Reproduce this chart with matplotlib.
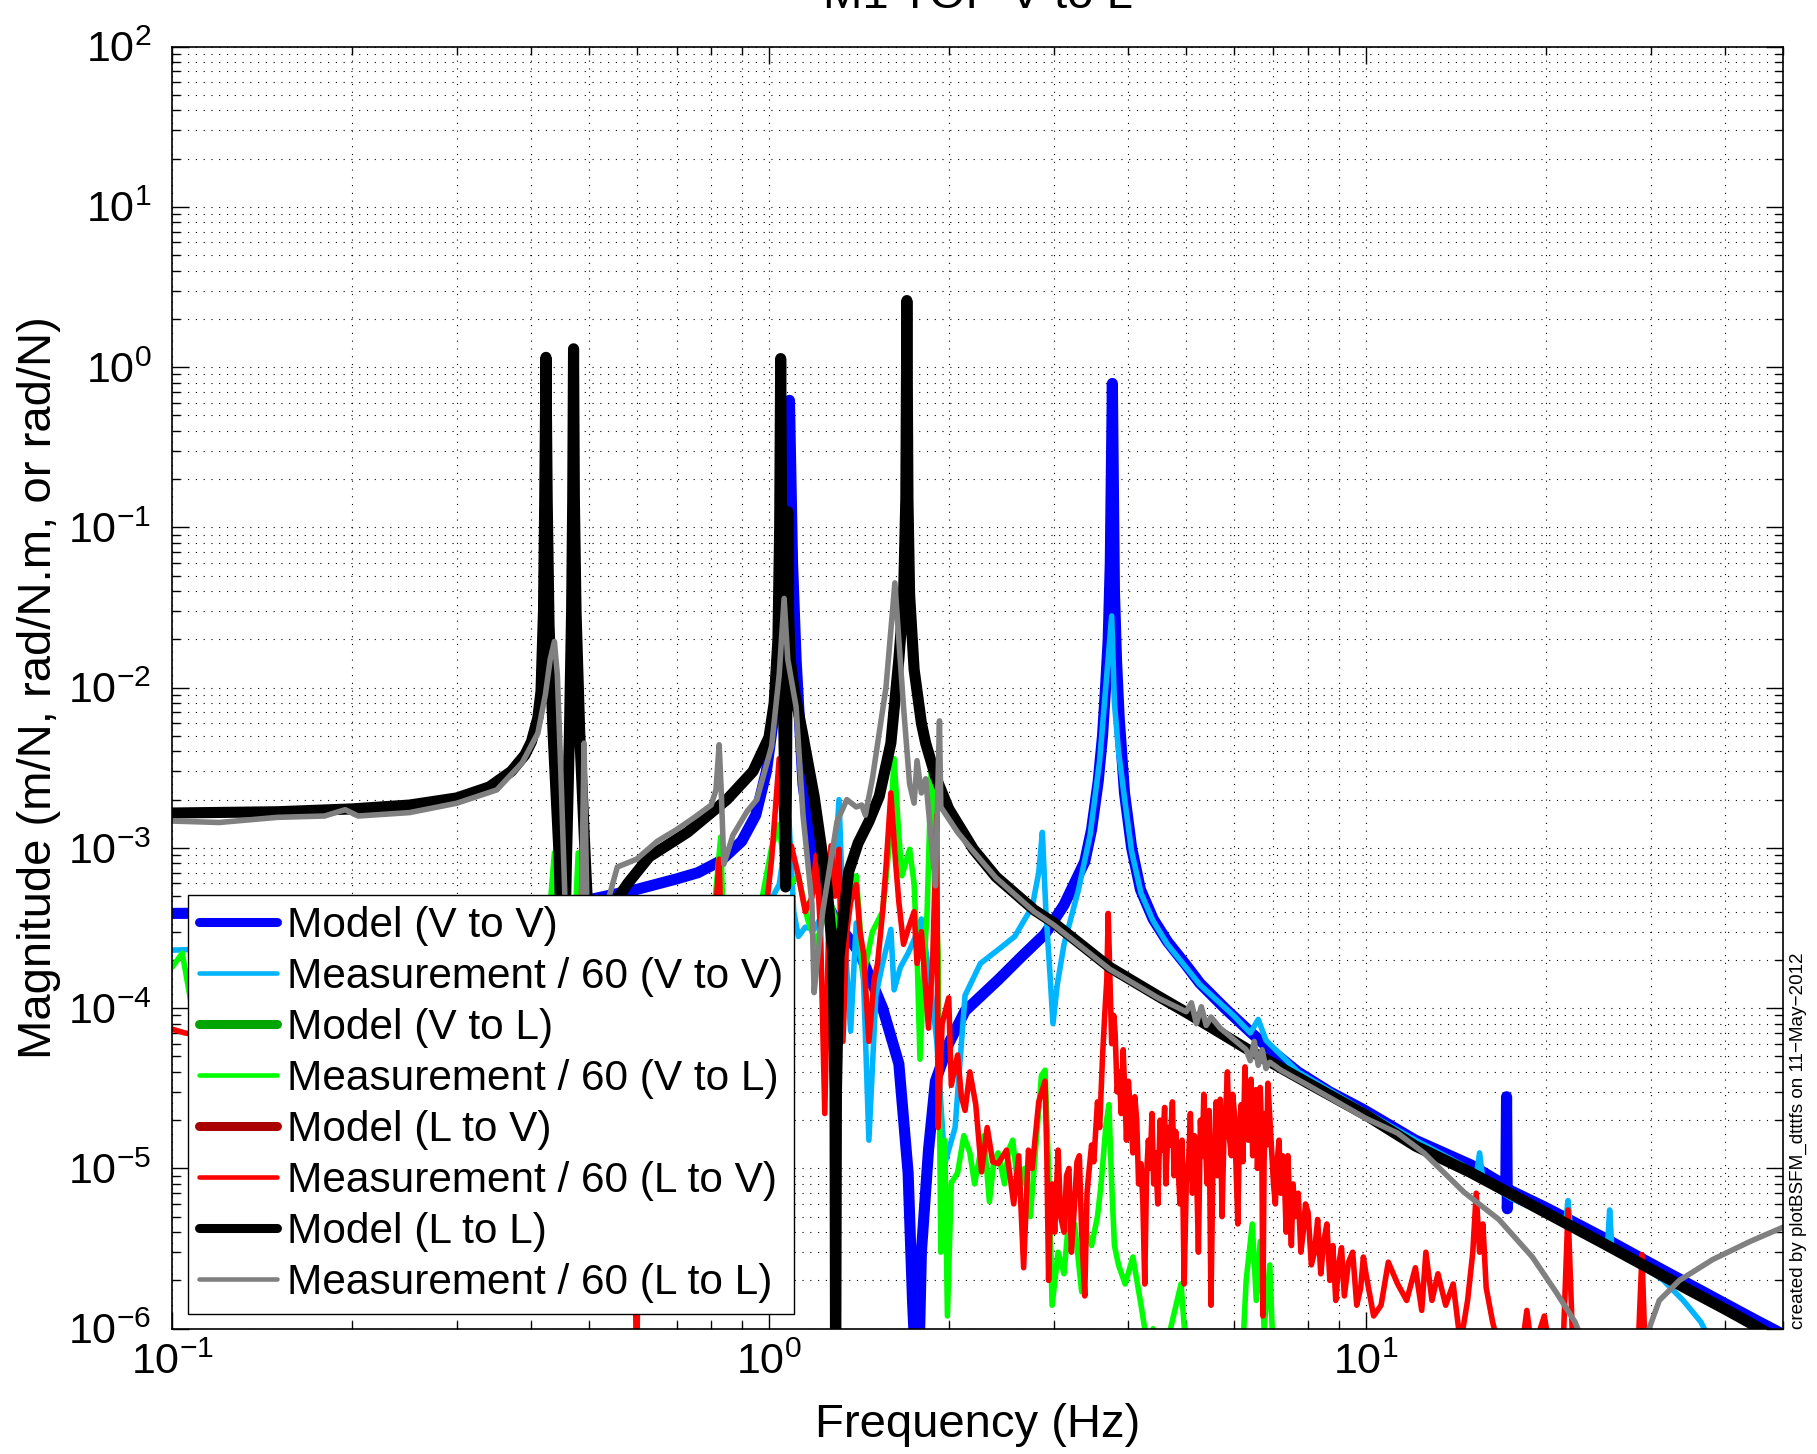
"""Recreate the M1 TOP V to L transfer-function magnitude plot."""

from __future__ import annotations

import matplotlib

matplotlib.use("Agg")

import matplotlib.pyplot as plt
from matplotlib.ticker import LogFormatterSciNotation, LogLocator, NullFormatter

# ---- values: frequency (Hz) and magnitude ----

# Model (V to V)
model_vv_freq = [0.1, 0.2, 0.3, 0.4, 0.5, 0.6, 0.7, 0.76, 0.83, 0.9, 0.95, 0.99, 1.03,
                 1.055, 1.07, 1.078, 1.082, 1.086, 1.095, 1.11, 1.14, 1.2, 1.3, 1.42,
                 1.55, 1.65, 1.71, 1.74, 1.775, 1.8, 1.85, 1.9, 2.0, 2.13, 2.42, 2.65,
                 2.9, 3.12, 3.38, 3.47, 3.56, 3.62, 3.66, 3.7, 3.73, 3.76, 3.79, 3.82,
                 3.86, 3.94, 4.05, 4.19, 4.4, 4.65, 5.0, 5.27, 5.8, 6.4, 7.0, 7.69, 8.7,
                 9.9, 12.1, 15.0, 17.15, 17.2, 17.25, 17.3, 20, 25, 30, 35, 40, 45, 50]
model_vv_mag = [3.9e-4, 3.95e-4, 4.1e-4, 4.35e-4, 4.75e-4, 5.5e-4, 6.4e-4, 7.0e-4, 8.3e-4,
                1.1e-3, 1.6e-3, 3.0e-3, 9e-3, 3e-2, 0.12, 0.3, 0.62, 0.3, 6e-2, 1.5e-2,
                2.5e-3, 6e-4, 3.4e-4, 2.2e-4, 1e-4, 4.5e-5, 9.4e-6, 1.45e-6, 3e-7, 3e-6,
                1.3e-5, 3.5e-5, 6e-5, 9.6e-5, 1.5e-4, 2.1e-4, 2.9e-4, 4.4e-4, 8.2e-4,
                1.3e-3, 2.6e-3, 5e-3, 9.6e-3, 2e-2, 6e-2, 0.79, 4e-2, 1.5e-2, 6.5e-3,
                2.2e-3, 1.0e-3, 5.5e-4, 3.6e-4, 2.6e-4, 1.85e-4, 1.43e-4, 1e-4, 7.1e-5,
                5.3e-5, 4e-5, 3e-5, 2.33e-5, 1.5e-5, 1.05e-5, 7.8e-6, 2.8e-5, 5.6e-6,
                7.4e-6, 5.7e-6, 3.7e-6, 2.55e-6, 1.87e-6, 1.43e-6, 1.13e-6, 9.2e-7]

# Measurement / 60 (V to V)
meas_vv_freq = [0.1, 0.2, 0.4, 0.55, 0.7, 0.85, 1.0, 1.04, 1.08, 1.1, 1.12, 1.15, 1.19,
                1.26, 1.29, 1.31, 1.33, 1.37, 1.4, 1.44, 1.47, 1.51, 1.55, 1.6, 1.62,
                1.66, 1.71, 1.76, 1.8, 1.86, 1.91, 1.97, 2.05, 2.13, 2.26, 2.45, 2.58,
                2.76, 2.83, 2.87, 2.91, 2.96, 2.99, 3.04, 3.12, 3.3, 3.45, 3.58, 3.68,
                3.75, 3.79, 3.85, 3.95, 4.05, 4.2, 4.4, 4.65, 5.27, 6.0, 6.4, 6.6, 6.8,
                7.7, 9.9, 12.1, 14.5, 15.3, 15.5, 15.7, 17.5, 20, 21.6, 21.8, 22.0, 24,
                25.4, 25.6, 25.8, 28, 31.5, 34, 36.4, 38]
meas_vv_mag = [2.3e-4, 2.5e-4, 3e-4, 4e-4, 4.5e-4, 4e-4, 4.5e-4, 5.9e-4, 1.5e-3, 4e-4,
               2.8e-4, 3.2e-4, 3.1e-4, 4.5e-4, 8e-4, 2e-3, 4e-4, 7.2e-5, 3.4e-4, 1.5e-4,
               1.5e-5, 1.2e-4, 1.9e-4, 3.1e-4, 1.3e-4, 1.8e-4, 2.2e-4, 2.8e-4, 3.6e-4,
               1.5e-4, 6.2e-5, 1.07e-5, 1.8e-5, 1.2e-4, 1.9e-4, 2.4e-4, 2.8e-4, 4.3e-4,
               7e-4, 1.25e-3, 4e-4, 1.5e-4, 8e-5, 1.4e-4, 2.5e-4, 5.5e-4, 1.2e-3, 3.5e-3,
               1.2e-2, 2.8e-2, 8e-3, 4e-3, 1.9e-3, 9.5e-4, 5.2e-4, 3.5e-4, 2.5e-4, 1.4e-4,
               9e-5, 7e-5, 8.5e-5, 6.3e-5, 4e-5, 2.3e-5, 1.5e-5, 1.05e-5, 9e-6, 1.25e-5,
               8.5e-6, 6.5e-6, 5.2e-6, 4.5e-6, 6.3e-6, 4.3e-6, 3.8e-6, 3.4e-6, 5.5e-6,
               3.3e-6, 2.7e-6, 2e-6, 1.5e-6, 1.1e-6, 8e-7]

# Model (V to L) and Model (L to V) fall below the plotted range
model_vl_freq = []
model_vl_mag = []
model_lv_freq = []
model_lv_mag = []

# Measurement / 60 (V to L)
meas_vl_freq = [0.1, 0.104, 0.108, 0.2, 0.3, 0.42, 0.437, 0.445, 0.47, 0.479, 0.485, 0.6,
                0.8, 0.83, 0.84, 0.95, 1.01, 1.04, 1.07, 1.12, 1.16, 1.2, 1.24, 1.27,
                1.31, 1.34, 1.4, 1.44, 1.49, 1.55, 1.59, 1.62, 1.65, 1.67, 1.72, 1.75,
                1.77, 1.79, 1.82, 1.84, 1.87, 1.9, 1.92, 1.94, 1.97, 1.99, 2.02, 2.07,
                2.12, 2.17, 2.21, 2.25, 2.29, 2.34, 2.38, 2.42, 2.48, 2.52, 2.56, 2.62,
                2.68, 2.74, 2.8, 2.86, 2.9, 2.94, 2.98, 3.05, 3.12, 3.18, 3.25, 3.34,
                3.4, 3.47, 3.55, 3.6, 3.67, 3.71, 3.75, 3.79, 3.85, 3.95, 4.07, 4.2,
                4.3, 4.4, 4.6, 4.9, 5.0, 5.5, 6.2, 6.3, 6.45, 6.55, 6.65, 6.75, 6.9,
                7.0, 10, 50]
meas_vl_mag = [1.8e-4, 2.2e-4, 1e-4, 5e-5, 6e-5, 1.5e-4, 9.3e-4, 2e-4, 2e-4, 9.3e-4,
               2e-4, 1e-4, 2.5e-4, 1.17e-3, 2.5e-4, 3e-4, 1e-3, 1.4e-3, 5.6e-4, 6.7e-4,
               3.6e-4, 2.5e-4, 4e-4, 4.5e-4, 3e-4, 4e-4, 6.7e-4, 1.6e-4, 3e-4, 4e-4,
               1.03e-3, 3.6e-3, 1.2e-3, 6.7e-4, 9.8e-4, 6e-4, 2.2e-4, 4.8e-5, 2e-4, 4e-4,
               3.3e-3, 6e-4, 2.2e-4, 3e-6, 1.5e-5, 1.2e-6, 8.1e-6, 9.4e-6, 1.6e-5,
               1.25e-5, 8e-6, 1.15e-5, 1.6e-5, 6.2e-6, 1.1e-5, 1.25e-5, 8e-6, 1.3e-5,
               1.5e-5, 7e-6, 1e-5, 5e-6, 1.4e-5, 3.8e-5, 4.1e-5, 1e-5, 1.4e-6, 3e-6,
               2.2e-6, 5e-6, 4.5e-6, 1.7e-6, 4e-6, 3.3e-6, 5e-6, 8e-6, 1.9e-5, 2.5e-5,
               8e-6, 3.3e-6, 2.5e-6, 1.9e-6, 2.8e-6, 1.4e-6, 8e-7, 1e-6, 7e-7, 1.9e-6,
               7e-7, 5e-7, 6e-7, 2e-6, 4.5e-6, 1.5e-6, 3.5e-6, 1e-6, 2.5e-6, 6e-7, 4e-7,
               3e-7]

# Measurement / 60 (L to V)
meas_lv_freq = [0.1, 0.105, 0.2, 0.3, 0.4, 0.44, 0.48, 0.49, 0.495, 0.55, 0.595, 0.6,
                0.605, 0.7, 0.8, 0.825, 0.835, 0.9, 0.98, 1.01, 1.04, 1.06, 1.09, 1.12,
                1.15, 1.18, 1.2, 1.22, 1.24, 1.26, 1.27, 1.29, 1.31, 1.33, 1.35, 1.37,
                1.4, 1.42, 1.44, 1.47, 1.5, 1.52, 1.55, 1.57, 1.6, 1.63, 1.65, 1.68,
                1.71, 1.75, 1.77, 1.8, 1.85, 1.88, 1.91, 1.92, 1.95, 2.0, 2.02, 2.07,
                2.1, 2.13, 2.17, 2.22, 2.27, 2.32, 2.37, 2.42, 2.5, 2.57, 2.62, 2.67,
                2.72, 2.76, 2.83, 2.9, 2.92, 2.94, 2.96, 2.98, 3.01, 3.05, 3.08, 3.12,
                3.15, 3.18, 3.21, 3.25, 3.28, 3.31, 3.34, 3.38, 3.41, 3.43, 3.47, 3.5,
                3.55, 3.58, 3.62, 3.65, 3.68, 3.7, 3.72, 3.73, 3.75, 3.78, 3.8, 3.83,
                3.86, 3.89, 3.92, 3.95, 3.97, 4.0, 4.04, 4.07, 4.1, 4.13, 4.16, 4.2,
                4.23, 4.26, 4.29, 4.32, 4.35, 4.38, 4.41, 4.44, 4.48, 4.52, 4.56, 4.6,
                4.62, 4.66, 4.7, 4.74, 4.77, 4.8, 4.84, 4.88, 4.92, 4.96, 5.0, 5.05,
                5.08, 5.12, 5.16, 5.2, 5.24, 5.28, 5.32, 5.35, 5.38, 5.42, 5.46, 5.5,
                5.54, 5.58, 5.61, 5.64, 5.67, 5.7, 5.74, 5.78, 5.82, 5.86, 5.9, 5.95,
                5.98, 6.02, 6.06, 6.1, 6.14, 6.18, 6.22, 6.27, 6.31, 6.35, 6.38, 6.42,
                6.46, 6.5, 6.54, 6.58, 6.62, 6.65, 6.69, 6.72, 6.75, 6.78, 6.82, 6.85,
                6.9, 6.95, 7.0, 7.05, 7.1, 7.15, 7.2, 7.25, 7.3, 7.35, 7.4, 7.45, 7.5,
                7.55, 7.6, 7.7, 7.78, 7.85, 7.92, 8.0, 8.1, 8.2, 8.3, 8.4, 8.5, 8.6,
                8.7, 8.8, 8.9, 9.0, 9.1, 9.2, 9.35, 9.5, 9.65, 9.8, 9.9, 10.0, 10.3,
                10.6, 10.9, 11.3, 11.7, 12.1, 12.4, 12.6, 12.9, 13.2, 13.6, 14.0, 14.4,
                14.8, 15.1, 15.3, 15.5, 15.7, 15.9, 16.3, 16.8, 17.5, 18.2, 18.6, 19.0,
                19.9, 20.5, 21.4, 21.8, 22.2, 23.5, 25, 26.5, 28.5, 29.0, 29.4, 31, 35,
                50]
meas_lv_mag = [7.4e-5, 7e-5, 5e-5, 6e-5, 8e-5, 2e-4, 1e-4, 2.3e-3, 2e-4, 5e-5, 5e-6,
               5e-7, 5e-6, 6e-5, 1.5e-4, 8.5e-4, 1.5e-4, 2e-4, 3e-4, 8.5e-4, 3.6e-3,
               8e-4, 1.03e-3, 6.7e-4, 4e-4, 4.9e-4, 9e-4, 3e-4, 2.2e-5, 4e-4, 1.03e-3,
               5e-4, 9.8e-4, 6.2e-5, 3e-4, 4.6e-4, 5.9e-4, 3e-4, 2.2e-4, 6.2e-5, 1.5e-4,
               1.9e-4, 4e-4, 7.5e-4, 2.2e-3, 8e-4, 4.6e-4, 2.5e-4, 3.1e-4, 4e-4, 1.9e-4,
               3e-4, 7.5e-5, 2e-4, 1.6e-3, 1.8e-5, 8e-5, 1.16e-4, 3.3e-5, 5.1e-5, 2.8e-5,
               2.3e-5, 4e-5, 2.5e-5, 9.5e-6, 1.8e-5, 1.1e-5, 1.07e-5, 1.3e-5, 6e-6,
               1.2e-5, 2.4e-6, 1.3e-5, 1e-5, 2.6e-5, 3.5e-5, 1.2e-5, 2e-6, 6e-6, 8e-6,
               4e-6, 1.3e-5, 5e-6, 4e-6, 9e-6, 1e-5, 3e-6, 6e-6, 1.1e-5, 1.2e-5, 4e-6,
               1.6e-6, 7e-6, 9e-6, 1.4e-5, 1.1e-5, 2.6e-5, 1.8e-5, 5e-5, 9e-5, 1.5e-4,
               3.9e-4, 1.8e-4, 1.2e-4, 6e-5, 9e-5, 7e-5, 3e-5, 4e-5, 2.2e-5, 5.5e-5,
               2.6e-5, 1.5e-5, 3.5e-5, 2e-5, 1.25e-5, 2.8e-5, 2e-5, 8e-6, 1.07e-5, 6e-6,
               1.9e-6, 9e-6, 1.5e-5, 1e-5, 2.2e-5, 8e-6, 1.25e-5, 6e-6, 2e-5, 1.3e-5,
               2.4e-5, 8e-6, 1.8e-5, 1.4e-5, 2.6e-5, 9e-6, 1.7e-5, 1.1e-5, 6e-6, 1.5e-5,
               1.9e-6, 8e-6, 1.2e-5, 2.2e-5, 7e-6, 1.6e-5, 1.07e-5, 3e-6, 2e-5, 1.2e-5,
               2.9e-5, 1.5e-5, 8e-6, 2.3e-5, 1.4e-6, 1e-5, 1.5e-5, 2.6e-5, 9e-6, 1.8e-5,
               2.7e-5, 5e-6, 1.5e-5, 2.2e-5, 4e-5, 1.6e-5, 1.2e-5, 2.9e-5, 2.2e-5, 1e-5,
               4.5e-6, 1.8e-5, 2.5e-5, 1.1e-5, 4.3e-5, 2e-5, 1.5e-5, 2.8e-5, 3.6e-5,
               1.2e-5, 2.6e-5, 3.1e-5, 1e-5, 2e-5, 3.2e-5, 1.6e-5, 1.2e-6, 1.1e-5, 2.2e-5,
               1.4e-5, 3.4e-5, 2.1e-5, 1.3e-5, 8e-6, 6e-6, 1.1e-5, 1.5e-5, 7e-6, 1.2e-5,
               9e-6, 4e-6, 1.2e-5, 6e-6, 3.3e-6, 8e-6, 5e-6, 7e-6, 3e-6, 4e-6, 6e-6,
               5.3e-6, 2.5e-6, 3e-6, 4.8e-6, 2.2e-6, 3.5e-6, 4.5e-6, 2e-6, 3.3e-6, 1.5e-6,
               2.5e-6, 3.2e-6, 1.6e-6, 2.6e-6, 3e-6, 1.4e-6, 1.8e-6, 2.8e-6, 2.2e-6,
               1.2e-6, 1.4e-6, 2.6e-6, 1.9e-6, 1.5e-6, 2.4e-6, 1.3e-6, 3e-6, 1.5e-6,
               2.2e-6, 1.4e-6, 1.9e-6, 8e-7, 1.5e-6, 3e-6, 7e-6, 3e-6, 4.5e-6, 1.8e-6,
               1.1e-6, 7e-7, 9e-7, 7e-7, 1.3e-6, 7e-7, 1.2e-6, 6e-7, 8e-7, 5.5e-6, 8e-7,
               5e-7, 7e-7, 5e-7, 6e-7, 2.9e-6, 6e-7, 5e-7, 4e-7, 3e-7]

# Model (L to L)
model_ll_freq = [0.1, 0.15, 0.2, 0.25, 0.3, 0.34, 0.37, 0.39, 0.4, 0.41, 0.415, 0.419,
                 0.421, 0.423, 0.425, 0.428, 0.435, 0.445, 0.452, 0.458, 0.463, 0.467,
                 0.469, 0.4705, 0.472, 0.475, 0.482, 0.492, 0.5, 0.51, 0.525, 0.55, 0.58,
                 0.63, 0.73, 0.85, 0.94, 1.0, 1.02, 1.035, 1.042, 1.046, 1.05, 1.055,
                 1.062, 1.066, 1.07, 1.073, 1.075, 1.078, 1.085, 1.1, 1.14, 1.19, 1.25,
                 1.28, 1.29, 1.293, 1.297, 1.31, 1.36, 1.41, 1.47, 1.53, 1.6, 1.65,
                 1.68, 1.695, 1.702, 1.709, 1.72, 1.75, 1.8, 1.83, 1.9, 2.0, 2.2, 2.4,
                 2.78, 3.0, 3.72, 4.5, 5.05, 6.3, 8.0, 10, 12.1, 15, 20, 25, 30, 35, 40,
                 44.5, 48, 50]
model_ll_mag = [1.65e-3, 1.68e-3, 1.75e-3, 1.85e-3, 2.05e-3, 2.4e-3, 3.0e-3, 3.8e-3,
                4.6e-3, 6.5e-3, 9.5e-3, 3e-2, 0.15, 1.15, 0.15, 2.5e-2, 5e-3, 9e-4, 8e-5,
                9e-4, 5e-3, 3e-2, 0.15, 1.3, 0.15, 3e-2, 5e-3, 9e-4, 2.5e-4, 2e-5, 2.2e-4,
                4.5e-4, 6e-4, 8.8e-4, 1.25e-3, 2.0e-3, 3.0e-3, 4.9e-3, 8e-3, 2e-2, 0.1,
                1.13, 0.1, 1.5e-2, 2.5e-3, 5.7e-4, 3e-3, 2.5e-2, 0.125, 3e-2, 1.5e-2,
                1e-2, 5e-3, 2.1e-3, 5.8e-4, 2.1e-4, 3e-5, 3e-7, 3e-5, 2.1e-4, 7.1e-4,
                1.07e-3, 1.46e-3, 2.1e-3, 4.5e-3, 1.5e-2, 3.6e-2, 0.15, 2.6, 0.15, 3.8e-2,
                1.3e-2, 6.0e-3, 4.5e-3, 2.8e-3, 1.75e-3, 9.8e-4, 6.6e-4, 4.1e-4, 3.4e-4,
                1.8e-4, 1.18e-4, 9.2e-5, 5.6e-5, 3.4e-5, 2.15e-5, 1.38e-5, 9.4e-6, 5.3e-6,
                3.4e-6, 2.35e-6, 1.72e-6, 1.32e-6, 1.06e-6, 9e-7, 8.5e-7]

# Measurement / 60 (L to L)
meas_ll_freq = [0.1, 0.12, 0.15, 0.18, 0.195, 0.205, 0.25, 0.3, 0.35, 0.386, 0.41, 0.422,
                0.43, 0.437, 0.442, 0.448, 0.455, 0.462, 0.475, 0.485, 0.49, 0.495, 0.51,
                0.54, 0.557, 0.6, 0.65, 0.7, 0.75, 0.8, 0.815, 0.825, 0.832, 0.84, 0.87,
                0.92, 0.954, 1.01, 1.04, 1.06, 1.075, 1.11, 1.14, 1.18, 1.19, 1.205,
                1.23, 1.3, 1.35, 1.4, 1.43, 1.45, 1.49, 1.57, 1.625, 1.68, 1.72, 1.75,
                1.77, 1.8, 1.83, 1.9, 1.93, 1.94, 2.07, 2.2, 2.4, 2.78, 3.0, 3.72, 4.5,
                5.0, 5.1, 5.2, 5.3, 5.4, 5.5, 5.7, 6.3, 6.4, 6.5, 6.6, 6.7, 6.8, 6.9,
                7.2, 8.0, 10, 11.3, 12.5, 14.6, 16.7, 19.0, 20.8, 22.4, 23.5, 28, 29.5,
                31, 33.5, 38.1, 44, 50]
meas_ll_mag = [1.47e-3, 1.44e-3, 1.55e-3, 1.58e-3, 1.73e-3, 1.58e-3, 1.66e-3, 1.9e-3,
               2.3e-3, 3.4e-3, 5.2e-3, 9e-3, 1.5e-2, 1.94e-2, 1.2e-2, 3e-3, 5e-4, 1.5e-4,
               2e-4, 4e-4, 4.5e-3, 5e-4, 2e-4, 5e-4, 7.6e-4, 8.5e-4, 1.1e-3, 1.3e-3,
               1.55e-3, 1.85e-3, 2.3e-3, 4.4e-3, 2.2e-3, 7.9e-4, 1.2e-3, 1.7e-3, 2.0e-3,
               4.3e-3, 1.2e-2, 3.6e-2, 1.5e-2, 7.6e-3, 1.6e-3, 4.5e-4, 1.25e-4, 2e-4,
               4e-4, 1.46e-3, 2e-3, 1.8e-3, 1.85e-3, 1.6e-3, 2.7e-3, 1e-2, 4.5e-2, 7.6e-3,
               2.5e-3, 1.9e-3, 3.5e-3, 2.2e-3, 2.7e-3, 5.8e-4, 6.2e-3, 1.8e-3, 1.25e-3,
               9.5e-4, 6.5e-4, 4.0e-4, 3.3e-4, 1.75e-4, 1.15e-4, 9.5e-5, 1.08e-4, 8e-5,
               1.02e-4, 7.8e-5, 8.8e-5, 7.5e-5, 5.5e-5, 4.7e-5, 6.2e-5, 4.4e-5, 5.5e-5,
               4.2e-5, 4.6e-5, 4.1e-5, 3.3e-5, 2.05e-5, 1.66e-5, 1.25e-5, 7.1e-6, 4.8e-6,
               2.8e-6, 1.7e-6, 1.1e-6, 7e-7, 6e-7, 9e-7, 1.5e-6, 2e-6, 2.7e-6, 3.5e-6,
               4.3e-6]

SERIES = [
    ("Model (V to V)", model_vv_freq, model_vv_mag, "#0000FF", True),
    ("Measurement / 60 (V to V)", meas_vv_freq, meas_vv_mag, "#00B4FF", False),
    ("Model (V to L)", model_vl_freq, model_vl_mag, "#00A500", True),
    ("Measurement / 60 (V to L)", meas_vl_freq, meas_vl_mag, "#00FF00", False),
    ("Model (L to V)", model_lv_freq, model_lv_mag, "#AA0000", True),
    ("Measurement / 60 (L to V)", meas_lv_freq, meas_lv_mag, "#FF0000", False),
    ("Model (L to L)", model_ll_freq, model_ll_mag, "#000000", True),
    ("Measurement / 60 (L to L)", meas_ll_freq, meas_ll_mag, "#808080", False),
]


def plot_transfer_functions() -> None:
    plt.rcParams["font.family"] = ["Liberation Sans", "DejaVu Sans"]
    plt.rcParams["mathtext.fontset"] = "custom"
    plt.rcParams["mathtext.rm"] = "Liberation Sans"
    plt.rcParams["mathtext.default"] = "regular"

    fig = plt.figure(figsize=(18.17, 14.54), dpi=100)
    ax = fig.add_axes([0.0947, 0.0862, 0.8867, 0.8818])

    for label, freq, mag, color, is_model in SERIES:
        ax.plot(freq, mag, color=color, linewidth=8.0 if is_model else 4.0,
                solid_joinstyle="round", solid_capstyle="round", label=label)

    ax.set_xscale("log")
    ax.set_yscale("log")
    ax.set_xlim(0.1, 50)
    ax.set_ylim(1e-6, 1e2)

    ax.xaxis.set_major_locator(LogLocator(base=10, numticks=20))
    ax.xaxis.set_minor_locator(LogLocator(base=10, subs=range(2, 10), numticks=100))
    ax.yaxis.set_major_locator(LogLocator(base=10, numticks=20))
    ax.yaxis.set_minor_locator(LogLocator(base=10, subs=range(2, 10), numticks=100))
    ax.xaxis.set_major_formatter(LogFormatterSciNotation())
    ax.yaxis.set_major_formatter(LogFormatterSciNotation())
    ax.xaxis.set_minor_formatter(NullFormatter())
    ax.yaxis.set_minor_formatter(NullFormatter())

    ax.grid(True, which="both", color="black", linestyle=(0, (1, 6)), linewidth=0.8)
    ax.tick_params(which="both", direction="in", top=True, right=True, width=1.0)
    ax.tick_params(which="major", length=12, labelsize=31)
    ax.tick_params(axis="x", which="major", pad=10)
    ax.tick_params(axis="y", which="major", pad=15)
    ax.tick_params(which="minor", length=6)
    for spine in ax.spines.values():
        spine.set_linewidth(1.2)

    ax.set_xlabel("Frequency (Hz)", fontsize=34)
    ax.set_ylabel("Magnitude (m/N, rad/N.m, or rad/N)", fontsize=34)
    ax.xaxis.set_label_coords(0.5, -0.058)
    ax.yaxis.set_label_coords(-0.069, 0.5)
    ax.set_title("M1 TOP V to L", fontsize=34, pad=28)

    legend = ax.legend(loc="lower left", bbox_to_anchor=(0.0099, 0.0118),
                       borderaxespad=0, fontsize=30.5, frameon=True, fancybox=False,
                       framealpha=1, edgecolor="black", borderpad=0.25,
                       labelspacing=0.26, handlelength=1.84, handletextpad=0.25)
    legend.get_frame().set_linewidth(1.0)
    for handle, (_, _, _, _, is_model) in zip(legend.legend_handles, SERIES):
        handle.set_linewidth(6.5 if is_model else 3.3)

    fig.text(0.9897, 0.0862, "created by plotBSFM_dtttfs on 11\u2212May\u22122012",
             rotation=90, ha="center", va="bottom", fontsize=13.6)

    fig.savefig("out.png", dpi=100)


def main() -> None:
    plot_transfer_functions()


if __name__ == "__main__":
    main()
